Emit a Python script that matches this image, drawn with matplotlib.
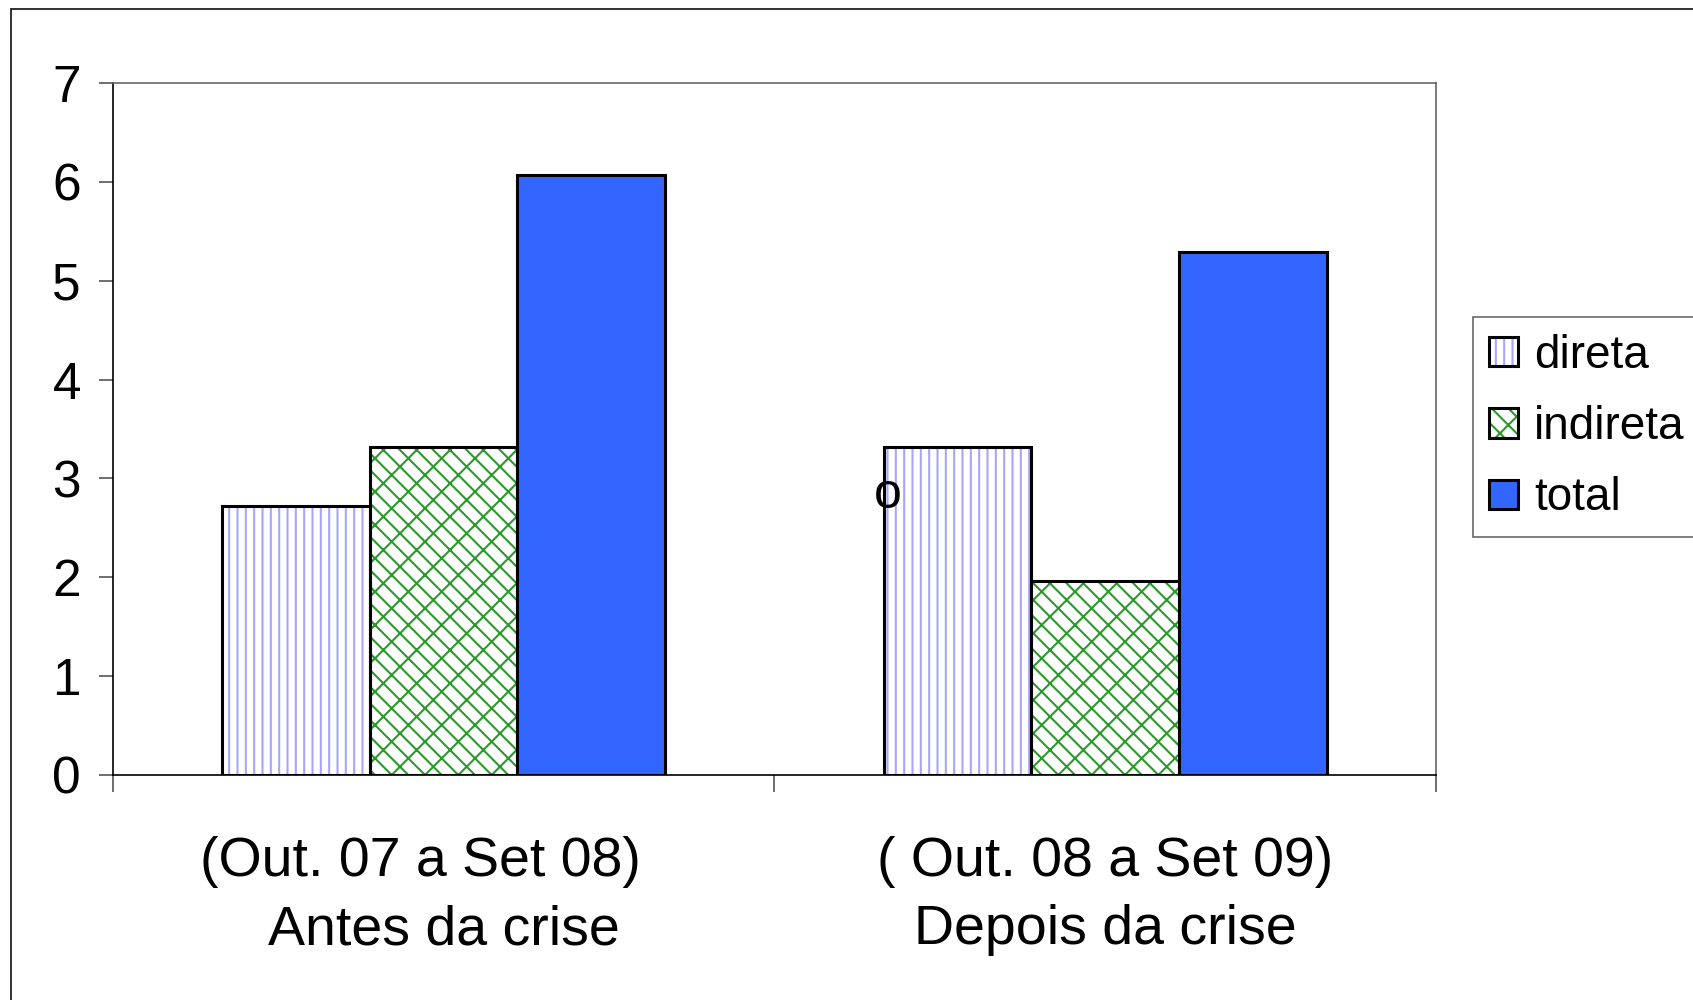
import numpy as np
import matplotlib
matplotlib.use('Agg')
import matplotlib.pyplot as plt
from matplotlib.patches import Rectangle, Patch

plt.rcParams['font.family'] = ['Liberation Sans', 'DejaVu Sans']
plt.rcParams['hatch.linewidth'] = 1.5

# data
periodos = ['(Out. 07 a Set 08)   \nAntes da crise', '( Out. 08 a Set 09)\nDepois da crise']
series = ['direta', 'indireta', 'total']
direta = [2.72, 3.32]
indireta = [3.32, 1.96]
total = [6.07, 5.29]
y_ticks = [0, 1, 2, 3, 4, 5, 6, 7]
nota = 'o'

fig = plt.figure(figsize=(16.93, 10), dpi=100)
ax = fig.add_axes([0.0667, 0.225, 0.7815, 0.692])

x = np.arange(len(periodos))
w = 0.223

styles = [
    dict(facecolor='white', hatch='||', hatchcolor='#a6a6ff'),
    dict(facecolor='white', hatch='\\x', hatchcolor='#2a9a2a'),
    dict(facecolor='#3366ff', hatch=None, hatchcolor=None),
]

for i, (vals, st) in enumerate(zip([direta, indireta, total], styles)):
    pos = x + (i - 1) * w
    if st['hatch']:
        # hatch drawn in its own colour, then a black outline on top
        ax.bar(pos, vals, w, color=st['facecolor'], edgecolor=st['hatchcolor'],
               hatch=st['hatch'], linewidth=0, zorder=2)
        ax.bar(pos, vals, w, fill=False, edgecolor='black', linewidth=2.2, zorder=3)
    else:
        ax.bar(pos, vals, w, color=st['facecolor'], edgecolor='black', linewidth=2.2, zorder=3)

ax.set_xlim(-0.5, len(periodos) - 0.5)
ax.set_ylim(0, 7)
ax.set_yticks(y_ticks)
ax.tick_params(axis='y', labelsize=37, length=10, width=1.2, color='#555555', pad=13)

ax.set_xticks(np.arange(len(periodos) + 1) - 0.5)
ax.set_xticklabels([])
ax.set_xticks(x, minor=True)
ax.set_xticklabels(periodos, minor=True, fontsize=40, linespacing=1.4)
ax.tick_params(axis='x', which='major', length=12, width=1.2, color='#555555')
ax.tick_params(axis='x', which='minor', length=0, pad=44)

for s in ['top', 'right']:
    ax.spines[s].set_color('#666666')
    ax.spines[s].set_linewidth(1.2)
for s in ['left', 'bottom']:
    ax.spines[s].set_color('black')
    ax.spines[s].set_linewidth(1.2)

ax.text(0.672, 2.70, nota, fontsize=36, ha='center', va='baseline', zorder=5)

# legend keys: coloured hatch with a black outline laid over it
handles = []
for lbl, st in zip(series, styles):
    if st['hatch']:
        back = Patch(facecolor='white', edgecolor=st['hatchcolor'], linewidth=0,
                     hatch=st['hatch'])
        front = Patch(fill=False, edgecolor='black', linewidth=2.2)
        handles.append((back, front))
    else:
        handles.append(Patch(facecolor=st['facecolor'], edgecolor='black', linewidth=2.2))
leg = fig.legend(handles, series, loc='upper left', bbox_to_anchor=(0.870, 0.683),
                 fontsize=33, frameon=True, fancybox=False, edgecolor='#444444',
                 handlelength=0.62, handleheight=0.62, handletextpad=0.36,
                 labelspacing=0.6, borderpad=0.36, borderaxespad=0)
leg.get_frame().set_linewidth(1.2)

# outer chart frame (right/bottom edges fall outside the picture)
fig.patches.append(Rectangle((0.0065, -0.2), 2, 0.991 + 0.2, transform=fig.transFigure,
                             fill=False, edgecolor='#222222', linewidth=1.3))

fig.savefig('out.png', dpi=100)
